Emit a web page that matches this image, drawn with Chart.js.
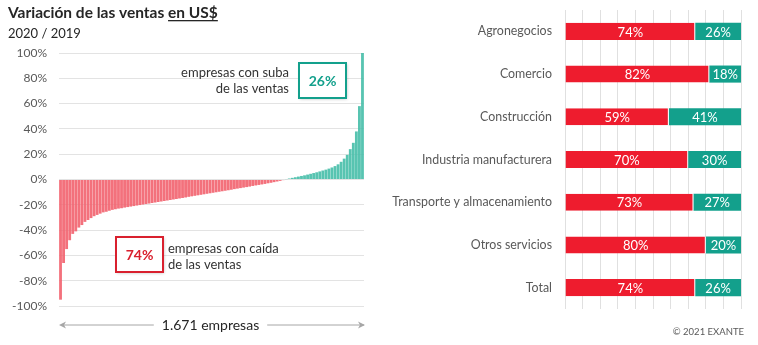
<!DOCTYPE html>
<html>
<head>
<meta charset="utf-8">
<script src="https://cdn.jsdelivr.net/npm/chart.js@4.4.1/dist/chart.umd.min.js"></script>
<style>
  body { margin: 0; background: #fff; font-family: Lato, "Open Sans", sans-serif; }
  #wrap { position: relative; width: 758px; height: 345px; overflow: hidden; }
  #left { position: absolute; left: 0; top: 0; }
  #right { position: absolute; left: 380px; top: 0; }
</style>
</head>
<body>
<div id="wrap">
  <canvas id="left" width="380" height="345"></canvas>
  <canvas id="right" width="378" height="345"></canvas>
</div>
<script>
// variacion de ventas 2020/2019, empresas ordenadas (muestra de la curva)
const companyChange = [
  -95, -66, -55, -48, -43, -41, -38, -36, -33.5, -32,
  -30.5, -29, -28, -27, -26, -25.5, -24.7, -24, -23.5, -23,
  -22.7, -22.2, -21.8, -21.4, -21, -20.6, -20.2, -19.8, -19.4, -19,
  -18.6, -18.2, -17.8, -17.4, -17, -16.6, -16.2, -15.8, -15.4, -15,
  -14.6, -14.2, -13.7, -13.3, -12.9, -12.5, -12.1, -11.7, -11.3, -10.9,
  -10.5, -10.1, -9.7, -9.3, -8.9, -8.5, -8.1, -7.6, -7.2, -6.8,
  -6.4, -6, -5.6, -5.1, -4.7, -4.3, -3.9, -3.5, -3, -2.6,
  -2.1, -1.6, -1.1, -0.5,
  0.3, 0.8, 1.3, 1.8, 2.3, 2.8, 3.3, 3.9, 4.5, 5.1,
  5.7, 6.4, 7.1, 7.8, 8.6, 9.5, 10.6, 12, 14, 16.5,
  19.5, 24, 29, 38, 58, 100
];
const yTicks = [-100, -80, -60, -40, -20, 0, 20, 40, 60, 80, 100];

const sectors = ['Agronegocios', 'Comercio', 'Construcción', 'Industria manufacturera',
  'Transporte y almacenamiento', 'Otros servicios', 'Total'];
const fallShare = [74, 82, 59, 70, 73, 80, 74];
const riseShare = [26, 18, 41, 30, 27, 20, 26];

const FONT = 'Lato, "Open Sans", sans-serif';
const GREY = '#595959';

// annotations for the left chart
const leftNotes = {
  id: 'leftNotes',
  afterDraw(chart) {
    const ctx = chart.ctx;
    const area = chart.chartArea;
    ctx.save();

    // title
    ctx.fillStyle = '#262626';
    ctx.font = 'bold 15.5px ' + FONT;
    ctx.textBaseline = 'alphabetic';
    ctx.textAlign = 'left';
    const t1 = 'Variación de las ventas ';
    ctx.fillText(t1, 8, 18);
    const w1 = ctx.measureText(t1).width;
    ctx.fillText('en US$', 8 + w1, 18);
    const w2 = ctx.measureText('en US$').width;
    ctx.fillRect(8 + w1, 20, w2, 1.3);
    ctx.font = '13px ' + FONT;
    ctx.fillText('2020 / 2019', 8, 38);

    // boxes
    ctx.shadowColor = 'rgba(0,0,0,0.25)';
    ctx.shadowBlur = 3;
    ctx.shadowOffsetX = 1;
    ctx.shadowOffsetY = 1;
    ctx.fillStyle = '#fff';
    ctx.fillRect(299, 63, 47, 35);
    ctx.fillRect(116, 237, 47, 35);
    ctx.shadowColor = 'transparent';
    ctx.lineWidth = 2;
    ctx.strokeStyle = '#13A08C';
    ctx.strokeRect(299, 63, 47, 35);
    ctx.strokeStyle = '#D9202E';
    ctx.strokeRect(116, 237, 47, 35);

    ctx.font = 'bold 14px ' + FONT;
    ctx.textAlign = 'center';
    ctx.textBaseline = 'middle';
    ctx.fillStyle = '#13A08C';
    ctx.fillText('26%', 322.5, 81);
    ctx.fillStyle = '#D9202E';
    ctx.fillText('74%', 139.5, 255);

    ctx.font = '13px ' + FONT;
    ctx.fillStyle = '#333';
    ctx.textAlign = 'right';
    ctx.fillText('empresas con suba', 289, 73);
    ctx.fillText('de las ventas', 289, 89);
    ctx.textAlign = 'left';
    ctx.fillText('empresas con caída', 168, 249);
    ctx.fillText('de las ventas', 168, 265);

    // arrow with count
    const ay = 325;
    ctx.font = '14px ' + FONT;
    ctx.textAlign = 'center';
    ctx.fillStyle = '#262626';
    const label = '1.671 empresas';
    const cx = (area.left + area.right) / 2 - 1;
    ctx.fillText(label, cx, ay);
    const lw = ctx.measureText(label).width / 2 + 8;
    ctx.strokeStyle = '#a6a6a6';
    ctx.lineWidth = 1;
    ctx.beginPath();
    ctx.moveTo(area.left + 2, ay);
    ctx.lineTo(cx - lw, ay);
    ctx.moveTo(cx + lw, ay);
    ctx.lineTo(area.right, ay);
    ctx.stroke();
    ctx.fillStyle = '#a6a6a6';
    ctx.beginPath();
    ctx.moveTo(area.left, ay);
    ctx.lineTo(area.left + 7, ay - 3.5);
    ctx.lineTo(area.left + 5, ay);
    ctx.lineTo(area.left + 7, ay + 3.5);
    ctx.fill();
    ctx.beginPath();
    ctx.moveTo(area.right + 1, ay);
    ctx.lineTo(area.right - 6, ay - 3.5);
    ctx.lineTo(area.right - 4, ay);
    ctx.lineTo(area.right - 6, ay + 3.5);
    ctx.fill();
    ctx.restore();
  }
};

new Chart(document.getElementById('left'), {
  type: 'bar',
  data: {
    labels: companyChange.map((v, i) => i + 1),
    datasets: [{
      data: companyChange,
      backgroundColor: companyChange.map(v => v < 0 ? 'rgba(242,98,110,0.9)' : 'rgba(70,190,168,0.9)'),
      categoryPercentage: 1,
      barPercentage: 0.93
    }]
  },
  options: {
    responsive: false,
    animation: false,
    layout: { padding: { left: 0, top: 53, right: 16, bottom: 39 } },
    plugins: { legend: { display: false }, tooltip: { enabled: false } },
    scales: {
      x: { display: false },
      y: {
        min: -100, max: 100,
        afterBuildTicks: (s) => { s.ticks = yTicks.map(v => ({ value: v })); },
        afterFit: (s) => { s.width = 59; },
        border: { display: false },
        grid: { color: '#e3e3e3', drawTicks: false },
        ticks: {
          padding: 12,
          color: GREY,
          font: { family: FONT, size: 12 },
          callback: (v) => v + '%'
        }
      }
    }
  },
  plugins: [leftNotes]
});

// right chart: share of companies by sector
const inLabels = {
  id: 'inLabels',
  afterDatasetsDraw(chart) {
    const ctx = chart.ctx;
    ctx.save();
    ctx.font = '13px ' + FONT;
    ctx.fillStyle = '#fff';
    ctx.textAlign = 'center';
    ctx.textBaseline = 'middle';
    chart.data.datasets.forEach((ds, di) => {
      chart.getDatasetMeta(di).data.forEach((bar, i) => {
        const x = (bar.base + bar.x) / 2;
        ctx.fillText(ds.data[i] + '%', x, bar.y + 1);
      });
    });
    ctx.fillStyle = GREY;
    ctx.font = '9.5px ' + FONT;
    ctx.textAlign = 'right';
    ctx.fillText('© 2021 EXANTE', 364, 332);
    ctx.restore();
  }
};

new Chart(document.getElementById('right'), {
  type: 'bar',
  data: {
    labels: sectors,
    datasets: [
      { data: fallShare, backgroundColor: '#EE1C2E', borderColor: '#fff', borderWidth: { right: 1 }, borderSkipped: false },
      { data: riseShare, backgroundColor: '#13A08C', borderWidth: 0 }
    ]
  },
  options: {
    indexAxis: 'y',
    responsive: false,
    animation: false,
    layout: { padding: { left: 0, top: 10, right: 17, bottom: 36 } },
    datasets: { bar: { categoryPercentage: 1, barPercentage: 0.4 } },
    plugins: { legend: { display: false }, tooltip: { enabled: false } },
    scales: {
      x: {
        stacked: true, min: 0, max: 100,
        ticks: { display: false, stepSize: 10 },
        border: { display: false },
        grid: { color: '#e0e0e0', drawTicks: false }
      },
      y: {
        stacked: true,
        afterFit: (s) => { s.width = 185; s.paddingTop = 0; s.paddingBottom = 0; },
        border: { display: false },
        grid: { display: false, drawTicks: false },
        ticks: { padding: 13, color: GREY, font: { family: FONT, size: 12.4 } }
      }
    }
  },
  plugins: [inLabels]
});
</script>
</body>
</html>
